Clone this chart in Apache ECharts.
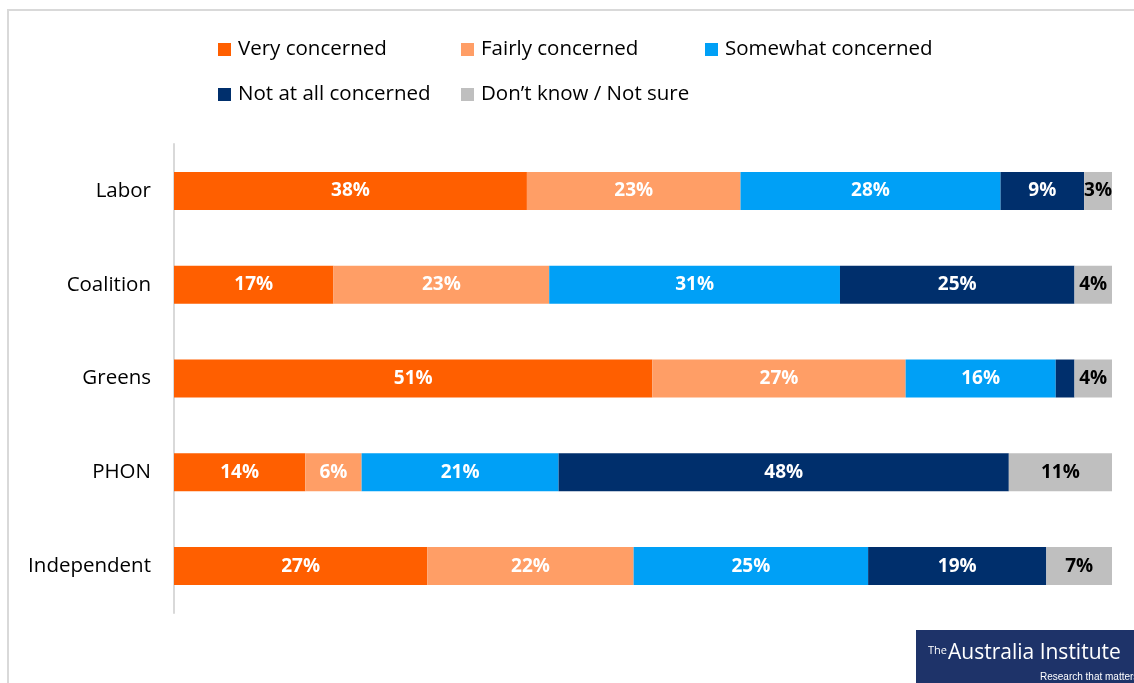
<!DOCTYPE html>
<html><head><meta charset="utf-8">
<script src="https://cdn.jsdelivr.net/npm/echarts@6/dist/echarts.min.js"></script>
<style>html,body{margin:0;padding:0;background:#fff}#c{width:1134px;height:683px}</style>
</head><body><div id="c"></div>
<script>
const categories = ['Labor', 'Coalition', 'Greens', 'PHON', 'Independent'];
const seriesNames = ['Very concerned', 'Fairly concerned', 'Somewhat concerned', 'Not at all concerned', 'Don\u2019t know / Not sure'];
const veryConcerned = [38, 17, 51, 14, 27];
const fairlyConcerned = [23, 23, 27, 6, 22];
const somewhatConcerned = [28, 31, 16, 21, 25];
const notAtAllConcerned = [9, 25, 2, 48, 19];
const dontKnow = [3, 4, 4, 11, 7];
const colors = ['#FF5F00', '#FF9E66', '#00A0F6', '#002F6C', '#BFBFBF'];
const labelColors = ['#fff', '#fff', '#fff', '#fff', '#000'];

const allSeries = [veryConcerned, fairlyConcerned, somewhatConcerned, notAtAllConcerned, dontKnow];
const rowSums = categories.map((_, i) => allSeries.reduce((s, arr) => s + arr[i], 0));
const font = '"Open Sans", "Noto Sans", sans-serif';

const chart = echarts.init(document.getElementById('c'));
const legendPos = [[218, 39], [461, 39], [705, 39], [218, 84], [461, 84]];
chart.setOption({
  animation: false,
  legend: seriesNames.map((n, i) => ({
    data: [n], left: legendPos[i][0], top: legendPos[i][1],
    itemWidth: 13, itemHeight: 13, icon: 'rect', padding: 0,
    textStyle: { fontFamily: font, fontSize: 20.5, color: '#000', padding: [0, 0, 0, 2] }
  })),
  grid: { left: 174, right: 22, top: 144, bottom: 70 },
  xAxis: { type: 'value', min: 0, max: 100, show: false },
  yAxis: {
    type: 'category', data: categories, inverse: true,
    axisLine: { lineStyle: { color: '#D9D9D9', width: 2 } },
    axisTick: { show: false },
    axisLabel: { fontFamily: font, fontSize: 20.5, color: '#000', margin: 23 }
  },
  series: seriesNames.map((n, si) => ({
    name: n, type: 'bar', stack: 'total', barWidth: 38,
    itemStyle: { color: colors[si] },
    label: {
      show: true, position: 'inside', color: labelColors[si],
      fontFamily: font, fontSize: 19, fontWeight: 'bold',
      formatter: p => p.data.raw + '%'
    },
    data: allSeries[si].map((v, i) => ({
      value: v / rowSums[i] * 100, raw: v,
      label: { show: v >= 3 }
    }))
  })),
  graphic: [
    { type: 'rect', shape: { x: 8, y: 10, width: 1200, height: 700 }, style: { fill: 'none', stroke: '#D9D9D9', lineWidth: 2 }, silent: true },
    { type: 'rect', shape: { x: 916, y: 630, width: 218, height: 53 }, style: { fill: '#1E3369' } },
    { type: 'text', x: 928, y: 645, style: { text: 'The', fill: '#fff', font: '11px "Liberation Sans Narrow", "Open Sans", sans-serif' } },
    { type: 'text', x: 948, y: 643, style: { text: 'Australia Institute', fill: '#fff', font: '21px "Liberation Sans Narrow", "Open Sans", sans-serif' } },
    { type: 'text', x: 1040, y: 672, style: { text: 'Research that matters', fill: '#fff', font: '10px "Liberation Sans Narrow", sans-serif' } }
  ]
});
</script></body></html>
